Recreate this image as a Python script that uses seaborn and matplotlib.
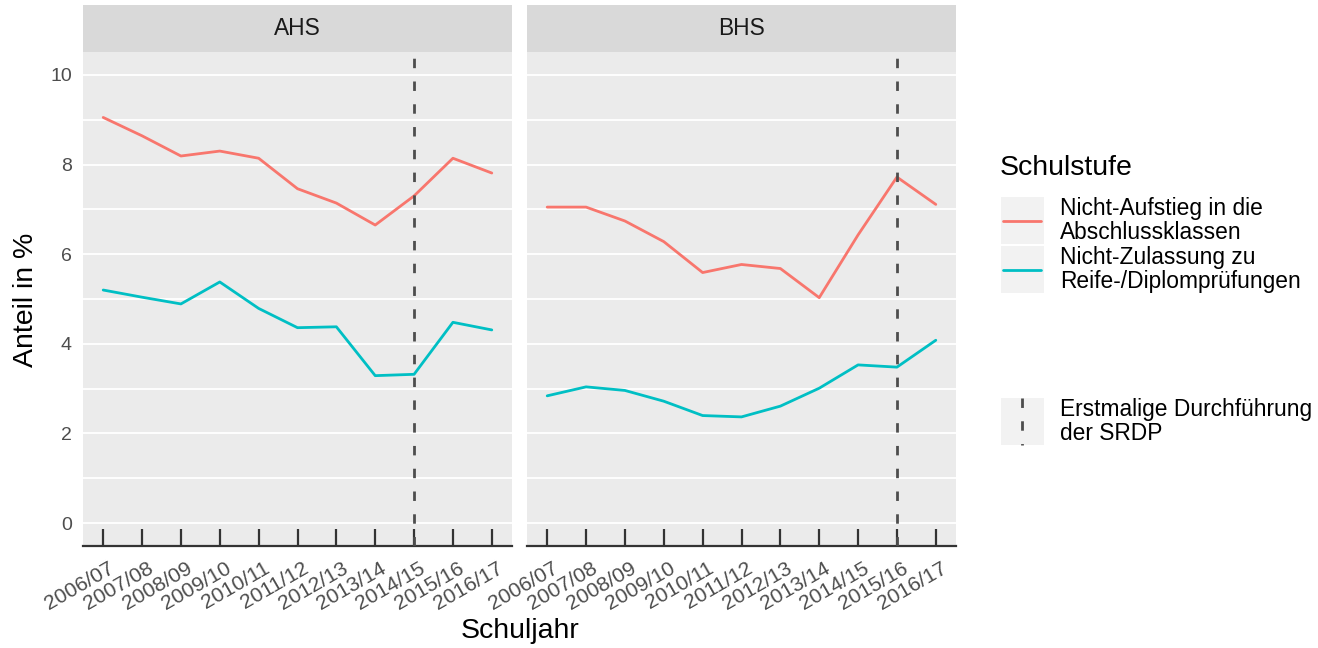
import numpy as np
import pandas as pd
import matplotlib
matplotlib.use("Agg")
import matplotlib.pyplot as plt
import matplotlib.transforms as mtransforms
import seaborn as sns
from matplotlib.patches import Rectangle
from matplotlib.lines import Line2D

# --- Daten ---
schuljahre = ["2006/07", "2007/08", "2008/09", "2009/10", "2010/11", "2011/12",
              "2012/13", "2013/14", "2014/15", "2015/16", "2016/17"]
ahs_aufstieg = [9.05, 8.64, 8.19, 8.30, 8.14, 7.46, 7.14, 6.65, 7.30, 8.14, 7.81]
ahs_zulassung = [5.20, 5.04, 4.89, 5.38, 4.79, 4.36, 4.38, 3.29, 3.32, 4.48, 4.31]
bhs_aufstieg = [7.05, 7.05, 6.74, 6.28, 5.59, 5.77, 5.68, 5.03, 6.43, 7.72, 7.11]
bhs_zulassung = [2.84, 3.04, 2.96, 2.72, 2.40, 2.37, 2.61, 3.01, 3.53, 3.48, 4.08]
schultypen = ["AHS", "BHS"]
srdp_start = ["2014/15", "2015/16"]
stufen = ["Nicht-Aufstieg in die\nAbschlussklassen",
          "Nicht-Zulassung zu\nReife-/Diplomprüfungen"]
farben = ["#F8766D", "#00BFC4"]

rows = []
for typ, werte in [("AHS", [ahs_aufstieg, ahs_zulassung]), ("BHS", [bhs_aufstieg, bhs_zulassung])]:
    for stufe, serie in zip(stufen, werte):
        for jahr, v in zip(schuljahre, serie):
            rows.append({"Schultyp": typ, "Schulstufe": stufe, "Schuljahr": jahr, "Anteil": v})
df = pd.DataFrame(rows)

# --- Stil ---
sns.set_theme(style="darkgrid")
plt.rcParams["font.family"] = ["Liberation Sans", "DejaVu Sans"]

W, H = 1318, 648
fig = plt.figure(figsize=(W / 100, H / 100), dpi=100)

def fx(px):
    return px / W

def fy(py):
    return 1 - py / H

panel_left = [83, 527]
panel_w = 429
panel_top, panel_bot = 52, 546
strip_h = 47
dash = (0, (3.4, 4.8))

axes = []
for i, typ in enumerate(schultypen):
    ax = fig.add_axes([fx(panel_left[i]), fy(panel_bot), panel_w / W, (panel_bot - panel_top) / H])
    axes.append(ax)
    sub = df[df["Schultyp"] == typ]
    sns.lineplot(data=sub, x="Schuljahr", y="Anteil", hue="Schulstufe",
                 hue_order=stufen, palette=farben, linewidth=2.0, ax=ax,
                 legend=False, sort=False)
    ax.axvline(schuljahre.index(srdp_start[i]), color="#4D4D4D", linewidth=2.0,
               linestyle=dash, zorder=3)

    ax.set_facecolor("#EBEBEB")
    ax.set_xlim(-0.52, 10.52)
    ax.set_ylim(-0.51, 10.51)
    ax.set_yticks([0, 2, 4, 6, 8, 10])
    ax.set_yticks([1, 3, 5, 7, 9], minor=True)
    ax.grid(False)
    ax.grid(True, axis="y", which="both", color="white", linewidth=1.3)
    ax.set_axisbelow(True)
    for s in ["top", "right", "left"]:
        ax.spines[s].set_visible(False)
    ax.spines["bottom"].set_color("#333333")
    ax.spines["bottom"].set_linewidth(1.6)
    ax.tick_params(axis="x", direction="in", length=12.5, width=1.6, color="#333333",
                   pad=9, labelsize=15.2, labelcolor="#4D4D4D", bottom=True)
    ax.tick_params(axis="y", which="both", length=0, pad=8, labelsize=14, labelcolor="#4D4D4D")
    offset = mtransforms.ScaledTranslation(5 / 100, 0, fig.dpi_scale_trans)
    for lab in ax.get_xticklabels():
        lab.set_rotation(30)
        lab.set_ha("right")
        lab.set_rotation_mode("anchor")
        lab.set_transform(lab.get_transform() + offset)
    ax.set_xlabel("")
    ax.set_ylabel("")
    if i == 1:
        ax.tick_params(axis="y", labelleft=False)

    # Streifen (Facet-Titel)
    ax.add_patch(Rectangle((0, 1), 1, strip_h / (panel_bot - panel_top), transform=ax.transAxes,
                           facecolor="#D9D9D9", edgecolor="none", clip_on=False))
    ax.text(0.5, 1 + strip_h / 2 / (panel_bot - panel_top), typ, transform=ax.transAxes,
            ha="center", va="center", fontsize=16.4, color="#1A1A1A")

fig.text(fx(26), fy(300), "Anteil in %", rotation=90, ha="center", va="center",
         fontsize=20.5, color="black")
fig.text(fx(520), fy(631), "Schuljahr", ha="center", va="center", fontsize=20.5, color="black")

# --- Legende ---
fig.text(fx(1000), fy(168), "Schulstufe", ha="left", va="center", fontsize=20.5, color="black")
key_rows = [(197, 244), (246, 293)]
for (t, b), farbe, label in zip(key_rows, farben, stufen):
    fig.add_artist(Rectangle((fx(1001), fy(b)), 43 / W, (b - t) / H, transform=fig.transFigure,
                             facecolor="#F2F2F2", edgecolor="none"))
    yc = (t + b) / 2
    fig.add_artist(Line2D([fx(1003), fx(1041)], [fy(yc), fy(yc)], color=farbe, linewidth=2.0))
    fig.text(fx(1060), fy(yc), label, ha="left", va="center", fontsize=16.4,
             linespacing=1.1, color="black")

t, b = 398, 445
fig.add_artist(Rectangle((fx(1001), fy(b)), 43 / W, (b - t) / H, transform=fig.transFigure,
                         facecolor="#F2F2F2", edgecolor="none"))
fig.add_artist(Line2D([fx(1022), fx(1022)], [fy(t), fy(b)], color="#4D4D4D", linewidth=2.0,
                      linestyle=dash))
fig.text(fx(1060), fy((t + b) / 2), "Erstmalige Durchführung\nder SRDP", ha="left", va="center",
         fontsize=16.4, linespacing=1.1, color="black")

fig.savefig("out.png", dpi=100, facecolor="white")
